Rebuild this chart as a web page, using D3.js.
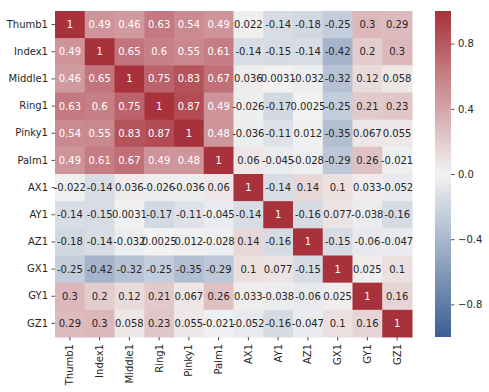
<!DOCTYPE html>
<html><head><meta charset="utf-8">
<script src="https://cdn.jsdelivr.net/npm/d3@7"></script>
<style>body{margin:0;background:#fff}svg{display:block}text{font-family:"DejaVu Sans",sans-serif}</style>
</head><body><svg id="c" width="489" height="392"></svg>
<script>
const labels = ["Thumb1","Index1","Middle1","Ring1","Pinky1","Palm1","AX1","AY1","AZ1","GX1","GY1","GZ1"];
const rowThumb1 = [1,0.49,0.46,0.63,0.54,0.49,0.022,-0.14,-0.18,-0.25,0.3,0.29];
const rowIndex1 = [0.49,1,0.65,0.6,0.55,0.61,-0.14,-0.15,-0.14,-0.42,0.2,0.3];
const rowMiddle1 = [0.46,0.65,1,0.75,0.83,0.67,0.036,0.0031,-0.032,-0.32,0.12,0.058];
const rowRing1 = [0.63,0.6,0.75,1,0.87,0.49,-0.026,-0.17,0.0025,-0.25,0.21,0.23];
const rowPinky1 = [0.54,0.55,0.83,0.87,1,0.48,-0.036,-0.11,0.012,-0.35,0.067,0.055];
const rowPalm1 = [0.49,0.61,0.67,0.49,0.48,1,0.06,-0.045,-0.028,-0.29,0.26,-0.021];
const rowAX1 = [-0.022,-0.14,0.036,-0.026,-0.036,0.06,1,-0.14,0.14,0.1,0.033,-0.052];
const rowAY1 = [-0.14,-0.15,0.0031,-0.17,-0.11,-0.045,-0.14,1,-0.16,0.077,-0.038,-0.16];
const rowAZ1 = [-0.18,-0.14,-0.032,0.0025,0.012,-0.028,0.14,-0.16,1,-0.15,-0.06,-0.047];
const rowGX1 = [-0.25,-0.42,-0.32,-0.25,-0.35,-0.29,0.1,0.077,-0.15,1,0.025,0.1];
const rowGY1 = [0.3,0.2,0.12,0.21,0.067,0.26,0.033,-0.038,-0.06,0.025,1,0.16];
const rowGZ1 = [0.29,0.3,0.058,0.23,0.055,-0.021,-0.052,-0.16,-0.047,0.1,0.16,1];
const matrix = [rowThumb1,rowIndex1,rowMiddle1,rowRing1,rowPinky1,rowPalm1,rowAX1,rowAY1,rowAZ1,rowGX1,rowGY1,rowGZ1];
const cbTicks = [0.8,0.4,0,-0.4,-0.8];

const svg = d3.select("#c");
const L = 55, R = 412, T = 11, B = 337;
const x = d3.scaleBand().domain(labels).range([L,R]);
const y = d3.scaleBand().domain(labels).range([T,B]);
const color = d3.scaleLinear().domain([-1,0,1]).range(["#3b5f94","#f2f2f2","#a8323c"]).interpolate(d3.interpolateRgb).clamp(true);

const cells = [];
matrix.forEach((row,i)=>row.forEach((v,j)=>cells.push({r:labels[i],c:labels[j],v})));
svg.append("g").selectAll("rect").data(cells).join("rect")
  .attr("x",d=>x(d.c)).attr("y",d=>y(d.r))
  .attr("width",x.bandwidth()+0.5).attr("height",y.bandwidth()+0.5)
  .attr("fill",d=>color(d.v));

function lum(c){const o=d3.rgb(c);const f=v=>{v/=255;return v<=0.03928?v/12.92:Math.pow((v+0.055)/1.055,2.4)};return 0.2126*f(o.r)+0.7152*f(o.g)+0.0722*f(o.b);}
const fmt = v => { let s = d3.format(".2")(v); return s.replace("−","-"); };
svg.append("g").selectAll("text").data(cells).join("text")
  .attr("x",d=>x(d.c)+x.bandwidth()/2).attr("y",d=>y(d.r)+y.bandwidth()/2)
  .attr("text-anchor","middle").attr("dy","0.35em").attr("font-size",10)
  .attr("fill",d=>lum(color(d.v))<0.408?"#ffffff":"#262626")
  .text(d=>fmt(d.v));

const ya = svg.append("g").attr("transform",`translate(${L},0)`).call(d3.axisLeft(y).tickSize(3.5).tickPadding(3.5));
const xa = svg.append("g").attr("transform",`translate(0,${B})`).call(d3.axisBottom(x).tickSize(3.5).tickPadding(3.5));
[ya,xa].forEach(a=>{a.select(".domain").remove();a.selectAll("line").attr("stroke","#262626").attr("stroke-width",0.8);a.selectAll("text").attr("font-size",10).attr("fill","#262626").attr("font-family","DejaVu Sans");});
xa.selectAll("text").attr("transform","rotate(-90)").attr("text-anchor","end").attr("dy","0.35em").attr("x",-7).attr("y",0);

// colorbar
const cbX = 435, cbW = 16;
const cy = d3.scaleLinear().domain([-1,1]).range([B,T]);
const defs = svg.append("defs");
const grad = defs.append("linearGradient").attr("id","g").attr("x1",0).attr("y1",1).attr("x2",0).attr("y2",0);
d3.range(0,1.0001,0.05).forEach(t=>grad.append("stop").attr("offset",t).attr("stop-color",color(-1+2*t)));
svg.append("rect").attr("x",cbX).attr("y",T).attr("width",cbW).attr("height",B-T).attr("fill","url(#g)");
const ca = svg.append("g").attr("transform",`translate(${cbX+cbW},0)`)
  .call(d3.axisRight(cy).tickValues(cbTicks).tickSize(3.5).tickPadding(3.5).tickFormat(d=>d3.format(".1f")(d).replace("-","−")));
ca.select(".domain").remove();
ca.selectAll("line").attr("stroke","#262626").attr("stroke-width",0.8);
ca.selectAll("text").attr("font-size",10).attr("fill","#262626").attr("font-family","DejaVu Sans");
</script></body></html>
